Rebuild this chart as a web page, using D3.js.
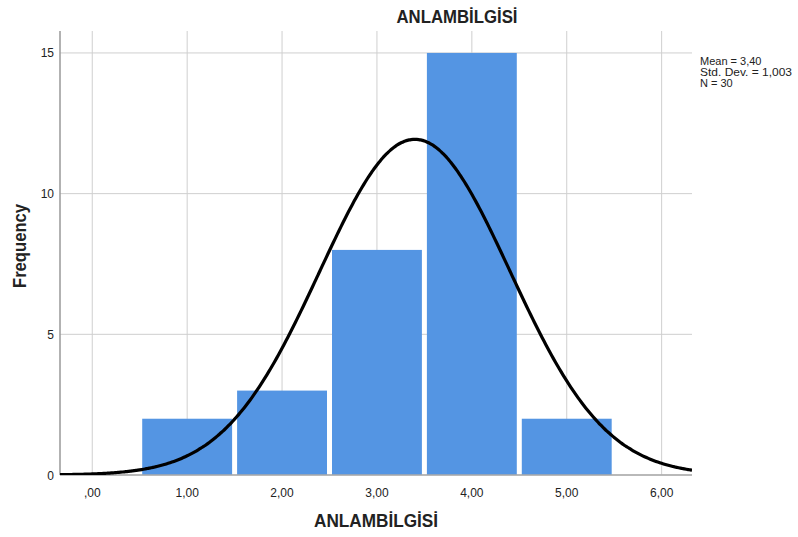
<!DOCTYPE html>
<html>
<head>
<meta charset="utf-8">
<script src="https://cdn.jsdelivr.net/npm/d3@7"></script>
<style>
  body { margin: 0; background: #fff; }
  text { font-family: Arial, "Liberation Sans", sans-serif; }
</style>
</head>
<body>
<svg id="chart" width="798" height="537"></svg>
<script>
// histogram values
const binCenters = [1, 2, 3, 4, 5];
const counts = [2, 3, 8, 15, 2];
const xTicks = [0, 1, 2, 3, 4, 5, 6];
const xTickLabels = [',00', '1,00', '2,00', '3,00', '4,00', '5,00', '6,00'];
const yTicks = [0, 5, 10, 15];
const stats = ['Mean = 3,40', 'Std. Dev. = 1,003', 'N = 30'];
const mean = 3.40, sd = 1.003, n = 30, binWidth = 1;

const svg = d3.select('#chart');
const plotL = 60, plotR = 692, plotT = 31, plotB = 475;

// scales fitted to the tick spots
const x = d3.scaleLinear().domain([-0.34, 6.32]).range([plotL, plotR]);
const y = d3.scaleLinear().domain([0, 15.78]).range([plotB, plotT]);

// grid
svg.append('g').selectAll('line').data(xTicks).enter().append('line')
  .attr('x1', d => x(d)).attr('x2', d => x(d))
  .attr('y1', plotT).attr('y2', plotB)
  .attr('stroke', '#cfcfcf').attr('stroke-width', 1);
svg.append('g').selectAll('line').data(yTicks).enter().append('line')
  .attr('x1', plotL).attr('x2', plotR)
  .attr('y1', d => y(d)).attr('y2', d => y(d))
  .attr('stroke', '#cfcfcf').attr('stroke-width', 1);

// bars
svg.append('g').selectAll('rect').data(binCenters).enter().append('rect')
  .attr('x', d => x(d - binWidth / 2) + 2.5)
  .attr('width', d => x(d + binWidth / 2) - x(d - binWidth / 2) - 5)
  .attr('y', (d, i) => y(counts[i]))
  .attr('height', (d, i) => y(0) - y(counts[i]))
  .attr('fill', '#5495e3');

// axes lines
svg.append('line').attr('x1', plotL).attr('x2', plotL).attr('y1', plotT).attr('y2', plotB)
  .attr('stroke', '#999').attr('stroke-width', 1.5);
svg.append('line').attr('x1', plotL).attr('x2', plotR).attr('y1', plotB).attr('y2', plotB)
  .attr('stroke', '#aaa').attr('stroke-width', 1.5);

// normal curve
svg.append('clipPath').attr('id', 'clip').append('rect')
  .attr('x', plotL).attr('y', plotT).attr('width', plotR - plotL).attr('height', plotB - plotT);
const xs = d3.range(-0.34, 6.33, 0.02);
const normal = v => n * binWidth / (sd * Math.sqrt(2 * Math.PI)) * Math.exp(-0.5 * Math.pow((v - mean) / sd, 2));
svg.append('path').datum(xs)
  .attr('clip-path', 'url(#clip)')
  .attr('d', d3.line().x(d => x(d)).y(d => y(normal(d))).curve(d3.curveBasis))
  .attr('fill', 'none').attr('stroke', '#000').attr('stroke-width', 3.2);

// tick labels
svg.append('g').selectAll('text').data(xTicks).enter().append('text')
  .attr('x', d => x(d)).attr('y', 497)
  .attr('text-anchor', 'middle').attr('font-size', 12).attr('fill', '#222')
  .text((d, i) => xTickLabels[i]);
svg.append('g').selectAll('text').data(yTicks).enter().append('text')
  .attr('x', 54).attr('y', d => y(d) + 4.5)
  .attr('text-anchor', 'end').attr('font-size', 12).attr('fill', '#222')
  .text(d => d);

// titles
svg.append('text').attr('x', 457).attr('y', 23).attr('text-anchor', 'middle')
  .attr('font-size', 17.5).attr('font-weight', 'bold').attr('fill', '#222')
  .attr('textLength', 121).attr('lengthAdjust', 'spacingAndGlyphs').text('ANLAMBİLGİSİ');
svg.append('text').attr('x', 376).attr('y', 526.5).attr('text-anchor', 'middle')
  .attr('font-size', 17.5).attr('font-weight', 'bold').attr('fill', '#222')
  .attr('textLength', 124).attr('lengthAdjust', 'spacingAndGlyphs').text('ANLAMBİLGİSİ');
svg.append('text').attr('transform', 'translate(26,246) rotate(-90)').attr('text-anchor', 'middle')
  .attr('font-size', 17.5).attr('font-weight', 'bold').attr('fill', '#222')
  .attr('textLength', 84).attr('lengthAdjust', 'spacingAndGlyphs').text('Frequency');

// stats box
svg.append('g').selectAll('text').data(stats).enter().append('text')
  .attr('x', 700).attr('y', (d, i) => 64.5 + i * 11)
  .attr('font-size', 11).attr('fill', '#222')
  .attr('textLength', (d, i) => i === 1 ? 92 : null)
  .attr('lengthAdjust', 'spacingAndGlyphs')
  .text(d => d);
</script>
</body>
</html>
